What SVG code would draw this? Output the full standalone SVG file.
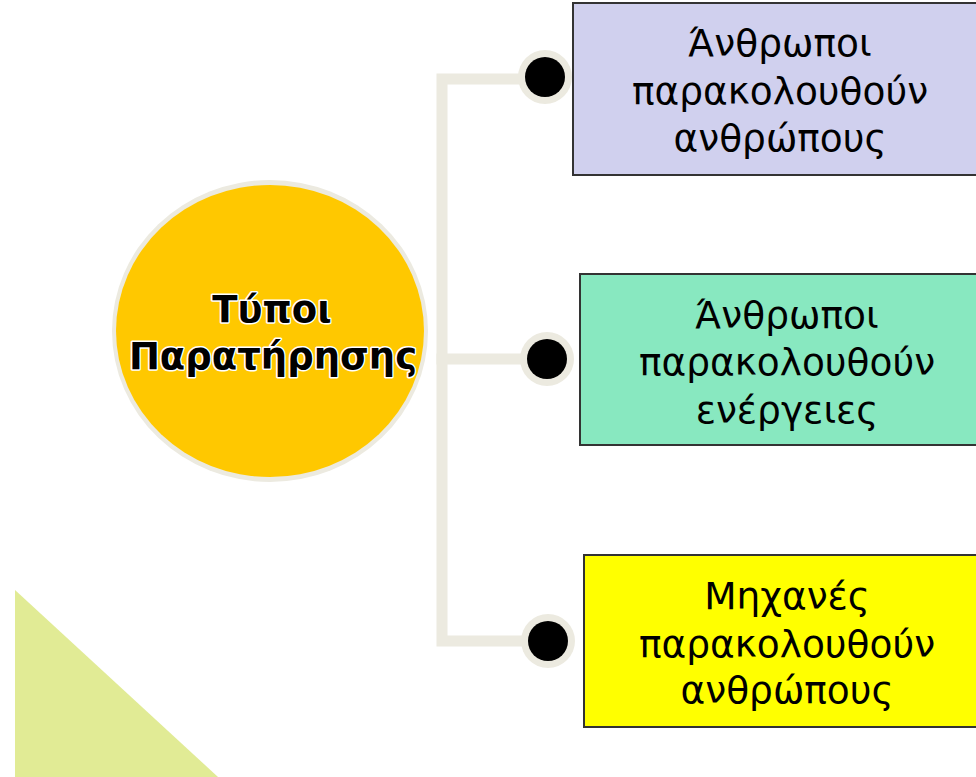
<svg xmlns="http://www.w3.org/2000/svg" width="976" height="777" viewBox="0 0 976 777">
<style>
.box{stroke:#333333;stroke-width:2}
.bt{font-family:"DejaVu Sans","Noto Sans",sans-serif;font-size:37.5px;fill:#000;text-anchor:middle}
.ct{font-family:"DejaVu Sans","Noto Sans",sans-serif;font-size:37px;font-weight:bold;fill:#000;text-anchor:middle;stroke:#ffffff;stroke-width:3;paint-order:stroke;stroke-linejoin:round}
.conn{fill:none;stroke:#ECEAE0;stroke-width:11;stroke-linecap:square}
.halo{fill:#ECEAE0}
.dot{fill:#000}
</style>
<rect width="976" height="777" fill="#ffffff"/>
<polygon points="15,590 15,777 218,777" fill="#E1EB95"/>
<g id="connectors">
<path class="conn" d="M547,79 H442 V641 H548"/>
<path class="conn" d="M442,359 H547"/>
<circle class="halo" cx="545" cy="77" r="27"/>
<circle class="dot" cx="545" cy="77" r="20"/>
<circle class="halo" cx="547" cy="359" r="27"/>
<circle class="dot" cx="547" cy="359" r="20"/>
<circle class="halo" cx="548" cy="641" r="27"/>
<circle class="dot" cx="548" cy="641" r="20"/>
</g>
<g id="center">
<ellipse cx="270" cy="331" rx="158" ry="151" fill="#ECEAE0"/>
<ellipse cx="270" cy="331" rx="154" ry="146" fill="#FFC800"/>
<text class="ct" x="272" y="322">Τύποι</text>
<text class="ct" x="273" y="369">Παρατήρησης</text>
</g>
<g id="box1">
<rect class="box" x="573" y="3" width="410" height="172" fill="#D0D0EE"/>
<text class="bt" x="780" y="56">Άνθρωποι</text>
<text class="bt" x="780" y="104">παρακολουθούν</text>
<text class="bt" x="780" y="151">ανθρώπους</text>
</g>
<g id="box2">
<rect class="box" x="580" y="274" width="410" height="171" fill="#88E8C0"/>
<text class="bt" x="787" y="328">Άνθρωποι</text>
<text class="bt" x="787" y="375">παρακολουθούν</text>
<text class="bt" x="787" y="423">ενέργειες</text>
</g>
<g id="box3">
<rect class="box" x="584" y="555" width="410" height="172" fill="#FFFF00"/>
<text class="bt" x="787" y="609">Μηχανές</text>
<text class="bt" x="787" y="657">παρακολουθούν</text>
<text class="bt" x="787" y="703">ανθρώπους</text>
</g>
</svg>
